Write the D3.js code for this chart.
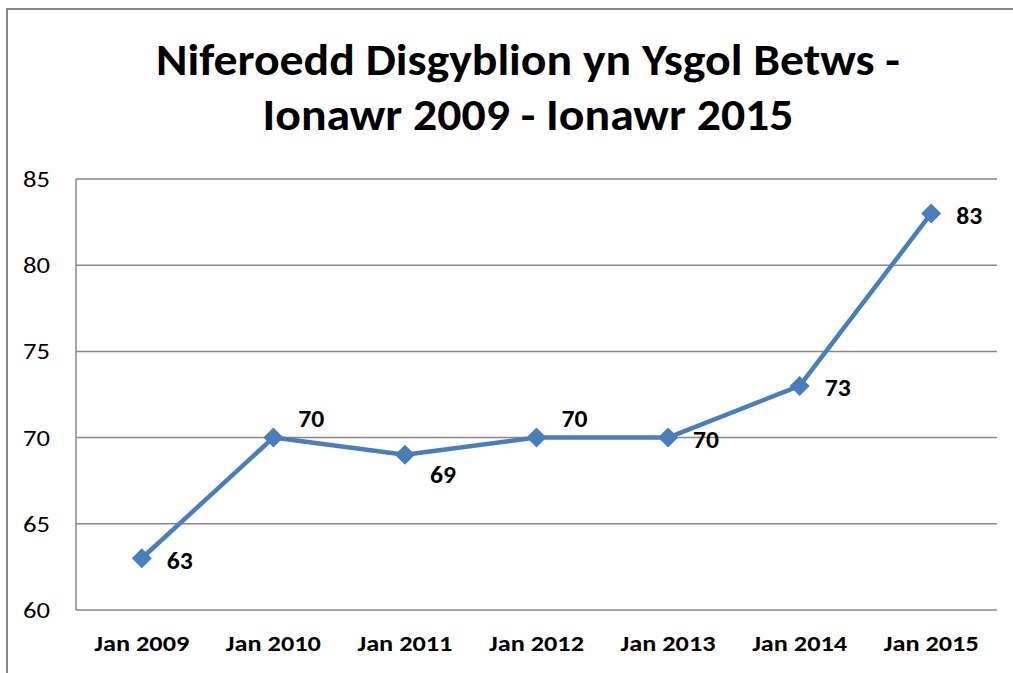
<!DOCTYPE html>
<html>
<head>
<meta charset="utf-8">
<script src="https://cdn.jsdelivr.net/npm/d3@7"></script>
<style>
  html, body { margin: 0; padding: 0; background: #fff; }
  svg { display: block; }
  text { font-family: Carlito, Calibri, Lato, "Open Sans", sans-serif; fill: #000; }
</style>
</head>
<body>
<svg id="chart" width="1013" height="673"></svg>
<script>
// ---- data ----
const titleLines = ["Niferoedd Disgyblion yn Ysgol Betws -", "Ionawr 2009 - Ionawr 2015"];
const categories = ["Jan 2009", "Jan 2010", "Jan 2011", "Jan 2012", "Jan 2013", "Jan 2014", "Jan 2015"];
const pupils = [63, 70, 69, 70, 70, 73, 83];
const labelPlacement = ["right", "above", "below", "above", "right", "right", "right"];
const yTicks = [60, 65, 70, 75, 80, 85];

// ---- layout ----
const W = 1013, H = 673;
const plot = { left: 76, right: 997, top: 179, bottom: 610 };
const svg = d3.select("#chart");
const gridColor = "#888888";
const lineColor = "#4A7EBB";

// outer chart-area border (only top and left visible in frame)
svg.append("path")
  .attr("d", `M7,${H + 5} L7,9 L${W + 5},9`)
  .attr("fill", "none").attr("stroke", gridColor).attr("stroke-width", 2);

// title
const titleX = 528;
const titleWidths = [744, 531];
titleLines.forEach((t, i) => {
  svg.append("text")
    .attr("x", titleX).attr("y", 75 + i * 55)
    .attr("text-anchor", "middle")
    .attr("font-size", 44).attr("font-weight", "bold")
    .attr("textLength", titleWidths[i]).attr("lengthAdjust", "spacingAndGlyphs")
    .text(t);
});

// scales
const x = d3.scaleBand().domain(categories).range([plot.left, plot.right]);
const y = d3.scaleLinear().domain([60, 85]).range([plot.bottom, plot.top]);
const cx = d => x(d) + x.bandwidth() / 2;

// gridlines
svg.append("g").selectAll("line").data(yTicks).join("line")
  .attr("x1", plot.left).attr("x2", plot.right)
  .attr("y1", d => y(d)).attr("y2", d => y(d))
  .attr("stroke", gridColor).attr("stroke-width", 1.5);

// y axis line
svg.append("line")
  .attr("x1", plot.left).attr("x2", plot.left)
  .attr("y1", plot.top).attr("y2", plot.bottom)
  .attr("stroke", gridColor).attr("stroke-width", 1.5);

// y axis labels
const yAxis = d3.axisLeft(y).tickValues(yTicks).tickSize(0).tickPadding(26);
const gy = svg.append("g").attr("transform", `translate(${plot.left},0)`).call(yAxis);
gy.select(".domain").remove();
gy.selectAll("text")
  .attr("font-size", 22).attr("font-family", null).attr("fill", "#000")
  .attr("textLength", 27).attr("lengthAdjust", "spacingAndGlyphs")
  .attr("dy", "0.34em");

// x axis labels
const xAxis = d3.axisBottom(x).tickSize(0).tickPadding(27);
const gx = svg.append("g").attr("transform", `translate(0,${plot.bottom})`).call(xAxis);
gx.select(".domain").remove();
gx.selectAll("text")
  .attr("font-size", 23).attr("font-weight", "bold").attr("font-family", null).attr("fill", "#000")
  .attr("textLength", 95).attr("lengthAdjust", "spacingAndGlyphs")
  .attr("dy", "0.62em");

// line
const data = categories.map((c, i) => ({ c, v: pupils[i], pos: labelPlacement[i] }));
svg.append("path").datum(data)
  .attr("d", d3.line().x(d => cx(d.c)).y(d => y(d.v)))
  .attr("fill", "none").attr("stroke", lineColor).attr("stroke-width", 4.5)
  .attr("stroke-linejoin", "round");

// diamond markers
svg.append("g").selectAll("path").data(data).join("path")
  .attr("transform", d => `translate(${cx(d.c)},${y(d.v)})`)
  .attr("d", "M0,-10L10,0L0,10L-10,0Z")
  .attr("fill", lineColor);

// data labels
const dyFor = { right: 2, above: -19, below: 20 };
svg.append("g").selectAll("text").data(data).join("text")
  .attr("x", d => cx(d.c) + 25)
  .attr("y", d => y(d.v) + dyFor[d.pos])
  .attr("dy", "0.34em")
  .attr("font-size", 25).attr("font-weight", "bold")
  .attr("textLength", 26).attr("lengthAdjust", "spacingAndGlyphs")
  .text(d => d.v);
</script>
</body>
</html>
